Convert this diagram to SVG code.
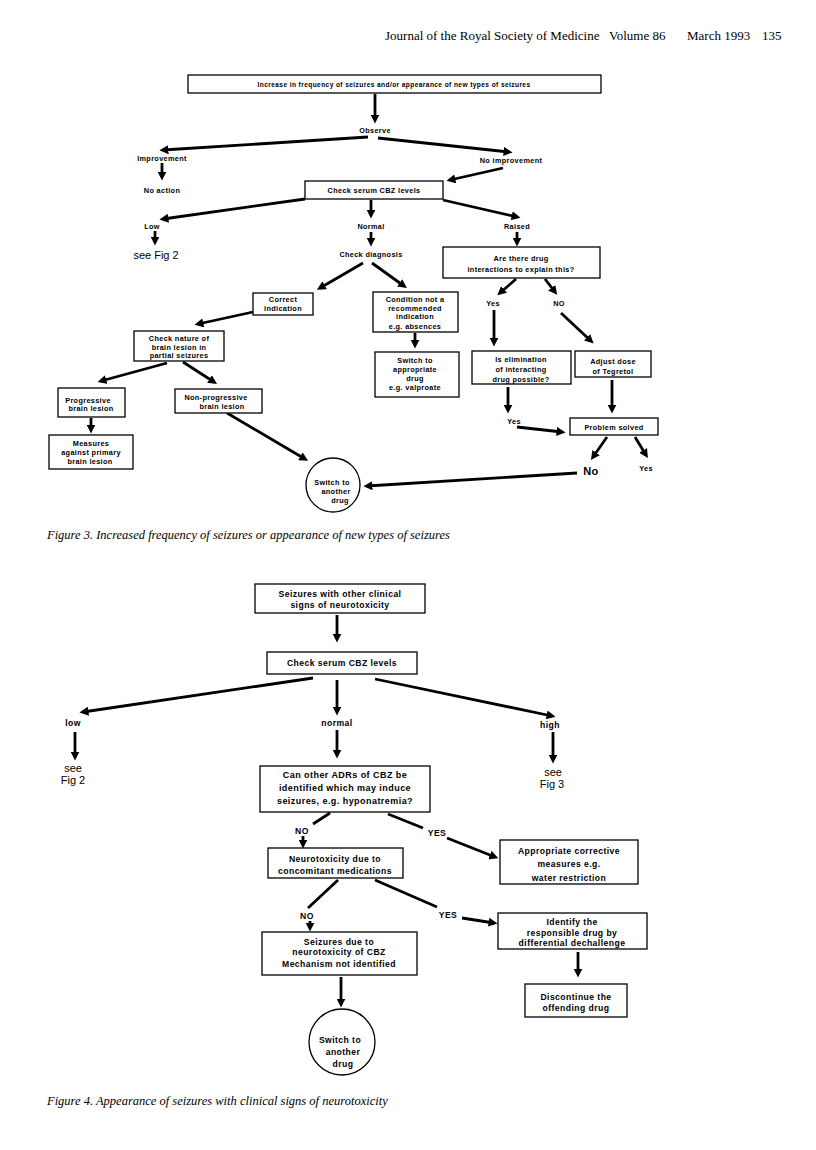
<svg xmlns="http://www.w3.org/2000/svg" width="816" height="1150" viewBox="0 0 816 1150">
<defs>
<marker id="ah" viewBox="0 0 10 10" refX="6" refY="5" markerWidth="9" markerHeight="9" markerUnits="userSpaceOnUse" orient="auto">
<path d="M0,0 L10,5 L0,10 z" fill="#000"/>
</marker>
</defs>
<style>
.bx{fill:#fff;stroke:#000;stroke-width:1.3}
.t{font-family:"Liberation Sans",Arial,sans-serif;font-weight:bold;font-size:7.3px;letter-spacing:0.35px;text-anchor:middle;fill:#000}
.t2{font-family:"Liberation Sans",Arial,sans-serif;font-weight:bold;font-size:8.6px;letter-spacing:0.45px;text-anchor:middle;fill:#000}
.see{font-family:"Liberation Sans",Arial,sans-serif;font-size:11px;text-anchor:middle;fill:#000}
.hd{font-family:"Liberation Serif","Times New Roman",serif;font-size:13px;fill:#000}
.cap{font-family:"Liberation Serif","Times New Roman",serif;font-style:italic;font-size:12.5px;fill:#000}
.c line,.c path{stroke:#000;stroke-width:2.8;fill:none}
.a{marker-end:url(#ah)}
</style>
<rect width="816" height="1150" fill="#fff"/>
<g id="header">
<text class="hd" x="385" y="40">Journal of the Royal Society of Medicine</text>
<text class="hd" x="609" y="40">Volume 86</text>
<text class="hd" x="687" y="40">March 1993</text>
<text class="hd" x="762" y="40">135</text>
</g>

<!-- Figure 3 -->
<g class="c" id="connectors3">
<line class="a" x1="375" y1="94" x2="375" y2="120"/>
<line class="a" x1="368" y1="137" x2="163" y2="150"/>
<line class="a" x1="378" y1="138" x2="509" y2="152"/>
<line class="a" x1="162" y1="163" x2="162" y2="177"/>
<line class="a" x1="503" y1="168" x2="450" y2="180"/>
<line class="a" x1="305" y1="199" x2="163" y2="219"/>
<line class="a" x1="371" y1="200" x2="371" y2="215"/>
<line class="a" x1="443" y1="200" x2="517" y2="217"/>
<line class="a" x1="155" y1="231" x2="155" y2="242"/>
<line class="a" x1="371" y1="232" x2="371" y2="243"/>
<line class="a" x1="517" y1="232" x2="517" y2="243"/>
<line class="a" x1="363" y1="263" x2="320" y2="288"/>
<line class="a" x1="372" y1="263" x2="404" y2="286"/>
<line class="a" x1="516" y1="279" x2="500" y2="293"/>
<line class="a" x1="545" y1="279" x2="555" y2="292"/>
<line class="a" x1="494" y1="310" x2="494" y2="343"/>
<line class="a" x1="561" y1="313" x2="591" y2="341"/>
<line class="a" x1="415" y1="333" x2="415" y2="345"/>
<line class="a" x1="253" y1="312" x2="198" y2="324"/>
<line class="a" x1="167" y1="363" x2="101" y2="381"/>
<line class="a" x1="183" y1="362" x2="214" y2="382"/>
<line class="a" x1="91" y1="418" x2="91" y2="430"/>
<line class="a" x1="227" y1="413" x2="305" y2="459"/>
<line class="a" x1="508" y1="387" x2="508" y2="410"/>
<line class="a" x1="517" y1="427" x2="562" y2="432"/>
<line class="a" x1="612" y1="380" x2="612" y2="410"/>
<line class="a" x1="607" y1="437" x2="593" y2="457"/>
<line class="a" x1="635" y1="437" x2="646" y2="455"/>
<line class="a" x1="577" y1="473" x2="367" y2="486"/>
</g>

<g id="n_increase"><rect class="bx" x="188" y="75" width="413" height="18"/><text class="t" x="394" y="87" style="font-size:6.6px;letter-spacing:0.4px">Increase in frequency of seizures and/or appearance of new types of seizures</text></g>
<g id="n_observe"><text class="t" x="375" y="133">Observe</text></g>
<g id="n_improvement"><text class="t" x="162" y="161">Improvement</text></g>
<g id="n_noaction"><text class="t" x="162" y="193">No action</text></g>
<g id="n_noimprovement"><text class="t" x="511" y="163">No improvement</text></g>
<g id="n_checkcbz"><rect class="bx" x="305" y="181" width="138" height="18"/><text class="t" x="374" y="193">Check serum CBZ levels</text></g>
<g id="n_low"><text class="t" x="152" y="229">Low</text></g>
<g id="n_seefig2"><text class="see" x="156" y="259">see Fig 2</text></g>
<g id="n_normal"><text class="t" x="371" y="229">Normal</text></g>
<g id="n_checkdiag"><text class="t" x="371" y="257">Check diagnosis</text></g>
<g id="n_raised"><text class="t" x="517" y="229">Raised</text></g>
<g id="n_interactions"><rect class="bx" x="443" y="247" width="157" height="31"/><text class="t" x="521" y="261">Are there drug</text><text class="t" x="521" y="272">interactions to explain this?</text></g>
<g id="n_yes1"><text class="t" x="493" y="306">Yes</text></g>
<g id="n_no1"><text class="t" x="559" y="306">NO</text></g>
<g id="n_elimination"><rect class="bx" x="472" y="351" width="99" height="33"/><text class="t" x="521" y="362">Is elimination</text><text class="t" x="521" y="372">of interacting</text><text class="t" x="521" y="382">drug possible?</text></g>
<g id="n_adjust"><rect class="bx" x="575" y="351" width="76" height="26"/><text class="t" x="613" y="364">Adjust dose</text><text class="t" x="613" y="374">of Tegretol</text></g>
<g id="n_yes2"><text class="t" x="514" y="424">Yes</text></g>
<g id="n_solved"><rect class="bx" x="570" y="418" width="88" height="17"/><text class="t" x="614" y="430">Problem solved</text></g>
<g id="n_no2"><text class="t" x="591" y="475" style="font-size:11px">No</text></g>
<g id="n_yes3"><text class="t" x="646" y="471">Yes</text></g>
<g id="n_correct"><rect class="bx" x="253" y="293" width="60" height="22"/><text class="t" x="283" y="302">Correct</text><text class="t" x="283" y="311">indication</text></g>
<g id="n_condition"><rect class="bx" x="373" y="292" width="85" height="40"/><text class="t" x="415" y="302">Condition not a</text><text class="t" x="415" y="311">recommended</text><text class="t" x="415" y="319">indication</text><text class="t" x="415" y="329">e.g. absences</text></g>
<g id="n_switchapp"><rect class="bx" x="375" y="352" width="84" height="45"/><text class="t" x="415" y="363">Switch to</text><text class="t" x="415" y="372">appropriate</text><text class="t" x="415" y="381">drug</text><text class="t" x="415" y="390">e.g. valproate</text></g>
<g id="n_nature"><rect class="bx" x="134" y="331" width="90" height="30"/><text class="t" x="179" y="341">Check nature of</text><text class="t" x="179" y="350">brain lesion in</text><text class="t" x="179" y="358">partial seizures</text></g>
<g id="n_progressive"><rect class="bx" x="58" y="388" width="67" height="29"/><text class="t" x="88" y="403">Progressive</text><text class="t" x="91" y="411">brain lesion</text></g>
<g id="n_nonprog"><rect class="bx" x="175" y="389" width="87" height="24"/><text class="t" x="216" y="400">Non-progressive</text><text class="t" x="222" y="409">brain lesion</text></g>
<g id="n_measures"><rect class="bx" x="49" y="435" width="84" height="34"/><text class="t" x="91" y="446">Measures</text><text class="t" x="91" y="455">against primary</text><text class="t" x="90" y="464">brain lesion</text></g>
<g id="n_switch3"><circle cx="333" cy="485" r="27" fill="#fff" stroke="#000" stroke-width="1.3"/><text class="t" x="332" y="485">Switch to</text><text class="t" x="336" y="494">another</text><text class="t" x="340" y="503">drug</text></g>
<g id="caption3"><text class="cap" x="47" y="539">Figure 3. Increased frequency of seizures or appearance of new types of seizures</text></g>

<!-- Figure 4 -->
<g class="c" id="connectors4">
<line class="a" x1="337" y1="615" x2="337" y2="639"/>
<line class="a" x1="313" y1="678" x2="83" y2="712"/>
<line class="a" x1="337" y1="680" x2="337" y2="712"/>
<line class="a" x1="375" y1="679" x2="552" y2="716"/>
<line class="a" x1="75" y1="732" x2="75" y2="757"/>
<line class="a" x1="337" y1="730" x2="337" y2="755"/>
<line class="a" x1="553" y1="732" x2="553" y2="760"/>
<line x1="330" y1="813" x2="313" y2="824"/>
<line class="a" x1="303" y1="836" x2="303" y2="845"/>
<line x1="388" y1="814" x2="423" y2="828"/>
<line class="a" x1="447" y1="838" x2="495" y2="857"/>
<line x1="338" y1="880" x2="308" y2="908"/>
<line class="a" x1="310" y1="921" x2="310" y2="928"/>
<line x1="375" y1="880" x2="437" y2="907"/>
<line class="a" x1="462" y1="918" x2="494" y2="923"/>
<line class="a" x1="578" y1="952" x2="578" y2="974"/>
<line class="a" x1="341" y1="977" x2="341" y2="1004"/>
</g>

<g id="m_seizures"><rect class="bx" x="255" y="584" width="170" height="29"/><text class="t2" x="340" y="597">Seizures with other clinical</text><text class="t2" x="340" y="608">signs of neurotoxicity</text></g>
<g id="m_checkcbz"><rect class="bx" x="267" y="652" width="150" height="22"/><text class="t2" x="342" y="666">Check serum CBZ levels</text></g>
<g id="m_low"><text class="t2" x="73" y="726">low</text></g>
<g id="m_seefig2"><text class="see" x="73" y="772">see</text><text class="see" x="73" y="784">Fig 2</text></g>
<g id="m_normal"><text class="t2" x="337" y="726">normal</text></g>
<g id="m_high"><text class="t2" x="550" y="728">high</text></g>
<g id="m_seefig3"><text class="see" x="553" y="776">see</text><text class="see" x="552" y="788">Fig 3</text></g>
<g id="m_adrs"><rect class="bx" x="260" y="766" width="170" height="46"/><text class="t2" x="345" y="778" style="font-size:9px">Can other ADRs of CBZ be</text><text class="t2" x="345" y="791" style="font-size:9px">identified which may induce</text><text class="t2" x="345" y="804" style="font-size:9px">seizures, e.g. hyponatremia?</text></g>
<g id="m_no1"><text class="t2" x="302" y="834">NO</text></g>
<g id="m_yes1"><text class="t2" x="437" y="836">YES</text></g>
<g id="m_appropriate"><rect class="bx" x="500" y="840" width="138" height="44"/><text class="t2" x="569" y="854">Appropriate corrective</text><text class="t2" x="569" y="867">measures e.g.</text><text class="t2" x="569" y="881">water restriction</text></g>
<g id="m_concomitant"><rect class="bx" x="268" y="848" width="135" height="30"/><text class="t2" x="335" y="862">Neurotoxicity due to</text><text class="t2" x="335" y="874">concomitant medications</text></g>
<g id="m_no2"><text class="t2" x="307" y="919">NO</text></g>
<g id="m_yes2"><text class="t2" x="448" y="918">YES</text></g>
<g id="m_identify"><rect class="bx" x="498" y="913" width="149" height="36"/><text class="t2" x="572" y="925">Identify the</text><text class="t2" x="572" y="936">responsible drug by</text><text class="t2" x="572" y="946">differential dechallenge</text></g>
<g id="m_discontinue"><rect class="bx" x="525" y="984" width="102" height="33"/><text class="t2" x="576" y="1000">Discontinue the</text><text class="t2" x="576" y="1011">offending drug</text></g>
<g id="m_mechanism"><rect class="bx" x="262" y="932" width="155" height="43"/><text class="t2" x="339" y="945">Seizures due to</text><text class="t2" x="339" y="955">neurotoxicity of CBZ</text><text class="t2" x="339" y="967">Mechanism not identified</text></g>
<g id="m_switch"><circle cx="342" cy="1042" r="33" fill="#fff" stroke="#000" stroke-width="1.3"/><text class="t2" x="340" y="1043">Switch to</text><text class="t2" x="343" y="1055">another</text><text class="t2" x="343" y="1067">drug</text></g>
<g id="caption4"><text class="cap" x="47" y="1105">Figure 4. Appearance of seizures with clinical signs of neurotoxicity</text></g>
</svg>
